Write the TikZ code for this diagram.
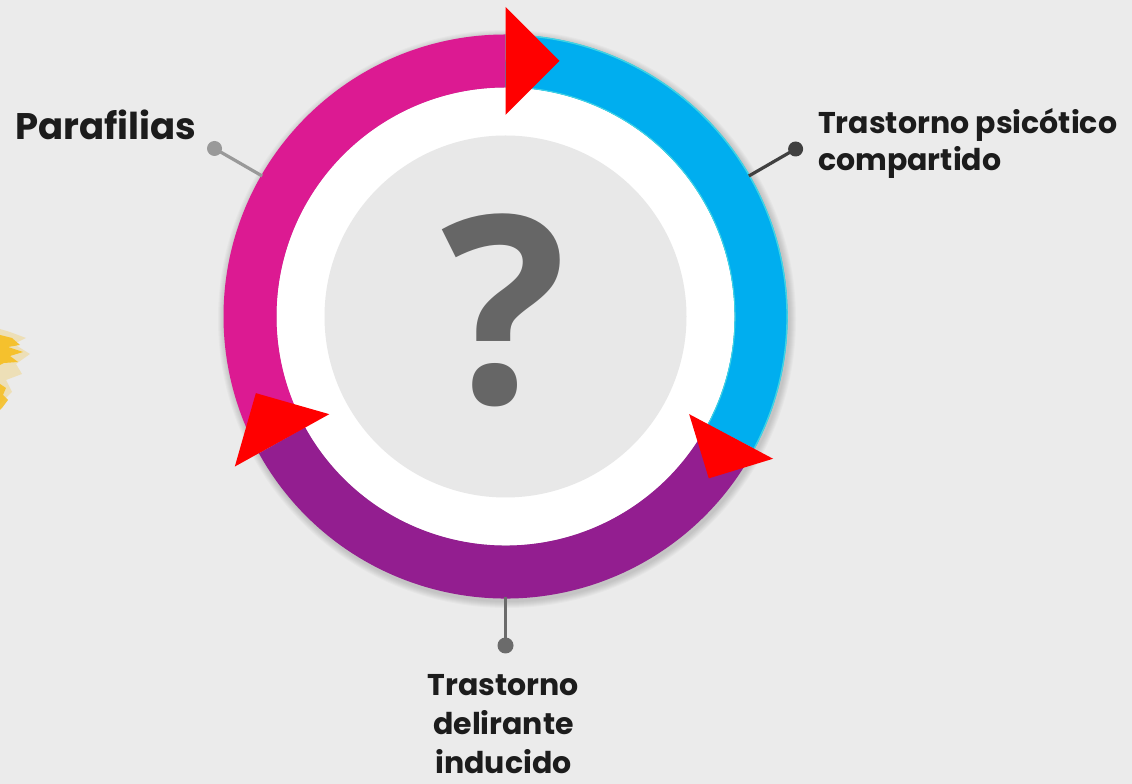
\documentclass[tikz,border=0pt]{standalone}
\usepackage{fontspec}
\usetikzlibrary{calc}
\setmainfont{Poppins}
\newfontfamily\qfont{Open Sans}
\definecolor{bg}{HTML}{EBEBEB}
\definecolor{innergray}{HTML}{E8E8E8}
\definecolor{magentaring}{HTML}{DC1A92}
\definecolor{cyanring}{HTML}{00AEEF}
\definecolor{cyanedge}{HTML}{3FD3E4}
\definecolor{purplering}{HTML}{931E90}
\definecolor{arrowred}{HTML}{FF0000}
\definecolor{qgray}{HTML}{666666}
\definecolor{txt}{HTML}{1C1C1C}
\definecolor{splash}{HTML}{F6BE1E}
\tikzset{
  ringseg/.style={line width=53pt},
  turnarrow/.style={fill=arrowred, draw=none},
  lbl/.style={inner sep=0pt, text=txt, font=\bfseries},
  leader/.style={line width=3.2pt},
  enddot/.style={circle, inner sep=0pt, minimum size=15pt},
}
\begin{document}
\begin{tikzpicture}[x=1pt,y=1pt]
\fill[bg] (0,0) rectangle (1132,784);
\useasboundingbox (0,0) rectangle (1132,784);
% yellow splash at left border
\fill[splash, opacity=0.25] (0,455) -- (10,452) -- (26,446) -- (14,440) -- (30,430) -- (16,420) -- (22,410) -- (6,404) -- (12,392) -- (0,380) -- cycle;
\fill[splash, opacity=0.9] (0,449) -- (12,446) -- (20,439) -- (8,437) -- (23,432) -- (10,428) -- (18,422) -- (4,421) -- (0,419) -- cycle;
\fill[splash, opacity=0.85] (0,400) -- (6,396) -- (3,389) -- (8,384) -- (2,376) -- (0,374) -- cycle;
\coordinate (C) at (505.5,467.5);
% soft shadow of the ring
\foreach \k in {1,...,7}{
  \draw[black, opacity=0.025, line width={53+2*\k}] ($(C)+(1.5,-2.5)$) circle[radius=255.5];
}
% white band and inner disc
\fill[white] (C) circle[radius=229];
\fill[innergray] (C) circle[radius=181];
% ring segments
\draw[ringseg, magentaring] ($(C)+(90:255.5)$) arc[start angle=90, end angle=209, radius=255.5];
\draw[ringseg, purplering] ($(C)+(209:255.5)$) arc[start angle=209, end angle=332, radius=255.5];
\draw[ringseg, cyanring] ($(C)+(-28:255.5)$) arc[start angle=-28, end angle=90, radius=255.5];
\draw[cyanedge, line width=1.4pt] ($(C)+(-28:281.5)$) arc[start angle=-28, end angle=90, radius=281.5];
\draw[cyanedge, line width=1pt] ($(C)+(-28:229.5)$) arc[start angle=-28, end angle=90, radius=229.5];
% question mark
\node[inner sep=0pt, text=qgray, font=\qfont\bfseries\fontsize{262}{262}\selectfont] (q) at (504,474) {?};
% red turn arrows
\begin{scope}[shift={(C)}, rotate=0]
  \fill[turnarrow] (90:201.5) -- (90:309.5) -- ($(90:255.5)+(54,0)$) -- cycle;
\end{scope}
\begin{scope}[shift={(C)}, rotate=119]
  \fill[turnarrow] (90:201.5) -- (90:309.5) -- ($(90:255.5)+(54,0)$) -- cycle;
\end{scope}
\begin{scope}[shift={(C)}, rotate=242]
  \fill[turnarrow] (90:208) -- (90:303) -- ($(90:255.5)+(47.5,0)$) -- cycle;
\end{scope}
% leaders
\coordinate (aP) at ($(C)+(150:281)$);
\coordinate (aT) at ($(C)+(30:281)$);
\coordinate (aD) at ($(C)+(270:281)$);
\node[enddot, fill=black!40] (dP) at ($(C)+(150:336)$) {};
\node[enddot, fill=black!75] (dT) at ($(C)+(30:335)$) {};
\node[enddot, fill=black!58, minimum size=16pt] (dD) at ($(C)+(270:329)$) {};
\draw[leader, black!40] (dP.center) -- (aP);
\draw[leader, black!75] (dT.center) -- (aT);
\draw[leader, black!58, line width=3.8pt] (dD.center) -- (aD);
% labels
\node[lbl, anchor=base west, font=\bfseries\fontsize{37}{46}\selectfont] (paraf) at (15,644) {Parafilias};
\node[lbl, align=left, anchor=north west, font=\bfseries\fontsize{30}{37}\selectfont] (tpc) at (818,676) {Trastorno psicótico\\compartido};
\node[lbl, align=center, anchor=north, font=\bfseries\fontsize{30}{39}\selectfont] (tdi) at (503.5,110) {Trastorno\\delirante\\inducido};
\end{tikzpicture}
\end{document}
